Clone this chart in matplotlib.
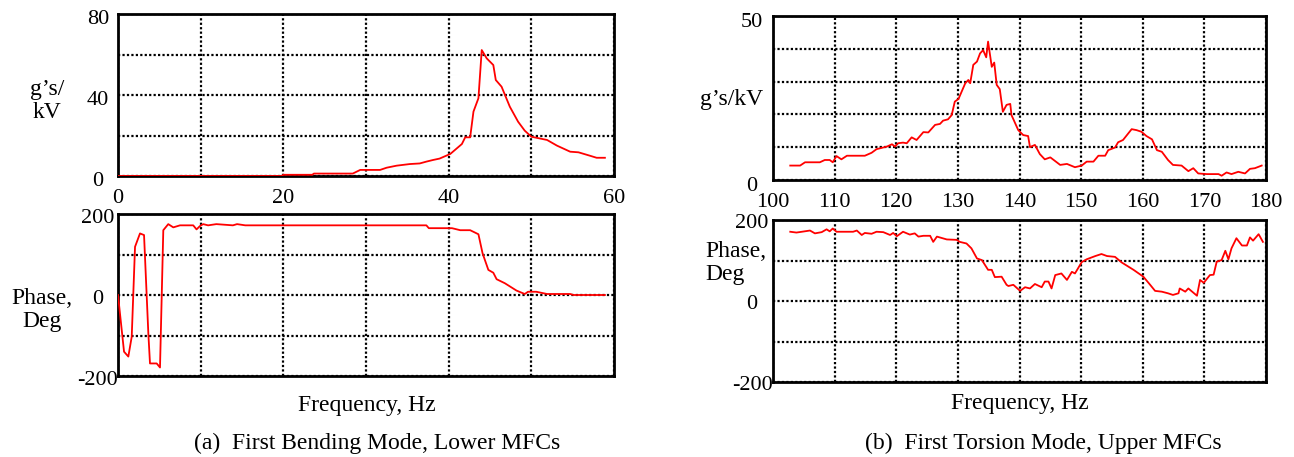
import matplotlib
matplotlib.use("Agg")
import matplotlib.pyplot as plt
from matplotlib.transforms import ScaledTranslation

plt.rcParams['font.family'] = ['Liberation Serif', 'DejaVu Serif']

# ---------------- data: (a) First Bending Mode ----------------
a_mag_freq = [0, 10, 19.8, 20.0, 23.5, 23.7, 28.4, 29.3, 31.7, 32.5, 33.7, 35.3, 36.5, 37.3,
              38.1, 38.9, 40.2, 41.0, 41.6, 42.0, 42.6, 43.0, 43.6, 44.0, 44.6, 45.4, 45.7,
              46.4, 47.4, 48.4, 49.2, 50.0, 51.9, 53.1, 54.7, 55.7, 57.1, 57.9, 58.9]
a_mag_val = [0, 0, 0, 0.6, 0.6, 1.2, 1.2, 3.0, 3.0, 4.1, 5.1, 5.9, 6.2, 7.1,
             7.9, 8.6, 10.9, 13.7, 15.8, 19.1, 19.1, 31.8, 38.4, 62.2, 58.1, 54.8, 47.4,
             44.1, 34.2, 26.8, 22.4, 19.4, 17.8, 15.0, 12.0, 11.7, 10.0, 9.0, 9.0]

a_ph_freq = [0.0, 0.73, 1.25, 1.66, 2.06, 2.66, 3.15, 3.67, 3.87, 4.68, 5.08, 5.48, 6.08,
             6.69, 7.5, 9.1, 9.5, 9.9, 10.3, 10.9, 11.9, 13.9, 14.4, 15.4, 37.3, 37.6,
             40.4, 41.4, 42.6, 43.6, 44.1, 44.8, 45.4, 45.8, 46.8, 48.2, 49.2, 49.6,
             50.6, 51.9, 54.7, 55.1, 58.9]
a_ph_val = [0, -140, -152, -103, 119, 152, 148, -95, -169, -169, -179, 160, 175,
            167, 172, 172, 162, 170, 175, 172, 175, 172, 175, 172, 172, 165,
            165, 160, 160, 150, 103, 62, 55, 39, 29, 11, 2.5, 8,
            8, 2.5, 2.5, 0, 0]

# ---------------- data: (b) First Torsion Mode ----------------
b_mag_freq = [102.8, 104.4, 105.2, 107.6, 108.4, 109.2, 109.7, 110.3, 111.1, 112.0, 114.9,
              116.0, 116.8, 118.5, 119.3, 119.8, 120.3, 121.1, 121.7, 122.5, 123.3, 124.4,
              125.2, 126.3, 127.1, 127.6, 128.4, 129.0, 129.5, 130.1, 131.2, 131.7, 132.0,
              132.5, 133.1, 133.6, 134.1, 134.6, 134.9, 135.5, 135.9, 136.3, 136.8, 137.3,
              137.9, 138.5, 138.7, 139.8, 140.6, 141.4, 141.7, 142.5, 143.3, 144.1, 145.0,
              146.6, 147.7, 149.0, 150.1, 150.9, 152.0, 152.8, 153.9, 154.4, 155.5, 156.0,
              156.8, 158.2, 159.0, 159.8, 160.6, 161.5, 162.3, 163.1, 164.1, 164.9, 166.3,
              167.4, 168.2, 169.0, 170.4, 172.3, 172.8, 173.6, 174.4, 175.5, 176.6, 177.4,
              178.2, 179.3]
b_mag_val = [4.4, 4.4, 5.4, 5.4, 6.1, 6.1, 5.4, 7.3, 6.3, 7.4, 7.4,
             8.3, 9.4, 10.2, 10.9, 10.2, 11.2, 11.4, 11.2, 13.0, 12.2, 14.6,
             14.5, 16.8, 17.1, 18.1, 18.5, 19.8, 23.9, 24.7, 29.5, 30.5, 29.5,
             35.1, 36.1, 38.6, 39.6, 37.4, 42.2, 34.5, 35.8, 29.0, 27.7, 20.8,
             22.9, 23.2, 19.8, 15.2, 13.7, 13.4, 10.0, 10.7, 7.9, 6.3, 6.9,
             4.6, 4.9, 3.9, 4.4, 5.6, 5.6, 7.4, 7.4, 9.1, 9.9, 11.5,
             12.2, 15.5, 15.2, 14.7, 13.4, 12.4, 9.1, 8.6, 6.1, 4.6, 4.4,
             2.7, 3.6, 2.0, 1.8, 1.8, 1.3, 2.3, 1.8, 2.5, 2.0, 3.4,
             3.6, 4.4]

b_ph_freq = [102.8, 103.8, 104.7, 106.0, 106.8, 107.9, 108.7, 109.2, 109.7, 110.3, 113.0,
             113.6, 114.4, 114.9, 116.0, 116.8, 117.9, 119.0, 119.5, 120.1, 121.1, 122.2,
             123.0, 123.6, 124.4, 125.5, 126.0, 126.6, 128.2, 129.8, 130.3, 131.4, 132.2,
             133.1, 133.9, 134.9, 135.5, 136.0, 137.1, 137.9, 138.2, 139.0, 140.1, 140.9,
             141.7, 142.5, 143.6, 144.1, 144.7, 145.2, 145.8, 146.8, 147.7, 148.5, 149.0,
             150.1, 150.9, 152.3, 153.3, 154.2, 155.5, 156.6, 158.5, 160.1, 161.2, 162.0,
             163.1, 164.1, 164.9, 165.8, 166.0, 166.9, 167.4, 168.8, 169.3, 169.9, 170.9,
             171.5, 172.0, 172.8, 173.4, 173.9, 174.4, 175.2, 176.1, 176.9, 177.4, 177.9,
             178.8, 179.5]
b_ph_val = [171, 169, 171, 174, 167, 170, 177, 172, 179, 171, 171,
            174, 163, 168, 166, 171, 170, 163, 168, 160, 171, 164,
            167, 159, 161, 161, 146, 159, 152, 151, 146, 142, 130,
            105, 101, 77, 77, 59, 60, 40, 37, 40, 25, 34,
            31, 42, 34, 48, 48, 31, 64, 68, 52, 72, 68,
            96, 103, 111, 116, 111, 109, 95, 77, 60, 40, 25,
            23, 19, 15, 19, 31, 23, 31, 13, 52, 45, 64,
            65, 97, 101, 124, 103, 130, 155, 137, 137, 157, 149,
            165, 146]

# ---------------- axes labels / ticks ----------------
a_mag_yticks = [0, 20, 40, 60, 80]
a_mag_ylabels = ['0', '', '40', '', '80']
a_xticks = [0, 10, 20, 30, 40, 50, 60]
a_xlabels = ['0', '', '20', '', '40', '', '60']
b_mag_yticks = [0, 10, 20, 30, 40, 50]
b_mag_ylabels = ['0', '', '', '', '', '50']
b_xticks = [100, 110, 120, 130, 140, 150, 160, 170, 180]
b_xlabels = [str(v) for v in b_xticks]
ph_yticks = [-200, -100, 0, 100, 200]
ph_ylabels = ['-200', '', '0', '', '200']

W, H = 1294, 457
fig = plt.figure(figsize=(W / 100, H / 100), dpi=100)

TICK_FS = 16
LABEL_FS = 17


def add_ax(x0, y0, x1, y1):
    return fig.add_axes([x0 / W, 1 - y1 / H, (x1 - x0) / W, (y1 - y0) / H])


def style(ax, xticks, xlabels, yticks, ylabels, xlim, ylim, ypad, ydown, xpad):
    ax.set_xlim(*xlim)
    ax.set_ylim(*ylim)
    ax.set_xticks(xticks)
    ax.set_xticklabels(xlabels)
    ax.set_yticks(yticks)
    ax.set_yticklabels(ylabels)
    ax.tick_params(axis='x', length=0, labelsize=TICK_FS, pad=xpad)
    ax.tick_params(axis='y', length=0, labelsize=TICK_FS, pad=ypad)
    off = ScaledTranslation(0, -ydown / 72, fig.dpi_scale_trans)
    for lab in ax.get_yticklabels():
        lab.set_horizontalalignment('center')
        lab.set_transform(lab.get_transform() + off)
    ax.grid(True, color='black', linestyle=(0, (1, 1)), linewidth=1.6)
    for s in ax.spines.values():
        s.set_linewidth(2.0)
        s.set_color('black')


red = '#ff0000'
lw = 1.3

# (a) magnitude
ax1 = add_ax(118, 14, 614, 176)
ax1.plot(a_mag_freq, a_mag_val, color=red, lw=lw, zorder=3)
style(ax1, a_xticks, a_xlabels, a_mag_yticks, a_mag_ylabels, (0, 60), (0, 80), 14.4, 2.5, 9.5)

# (a) phase
ax2 = add_ax(118, 214, 614, 376)
ax2.plot(a_ph_freq, a_ph_val, color=red, lw=lw, zorder=3)
style(ax2, a_xticks, [''] * len(a_xticks), ph_yticks, ph_ylabels, (0, 60), (-200, 200), 14.4, 1.5, 5)

# (b) magnitude
ax3 = add_ax(773, 16, 1266, 180)
ax3.plot(b_mag_freq, b_mag_val, color=red, lw=lw, zorder=3)
style(ax3, b_xticks, b_xlabels, b_mag_yticks, b_mag_ylabels, (100, 180), (0, 50), 15.0, 3.0, 9.5)

# (b) phase
ax4 = add_ax(773, 220, 1266, 382)
ax4.plot(b_ph_freq, b_ph_val, color=red, lw=lw, zorder=3)
style(ax4, b_xticks, [''] * len(b_xticks), ph_yticks, ph_ylabels, (100, 180), (-200, 200), 15.0, 1.0, 5)


def ftext(x, y, s, **kw):
    fig.text(x / W, 1 - y / H, s, **kw)


ftext(47, 101, 'g\u2019s/\nkV', ha='center', va='center', fontsize=LABEL_FS, linespacing=1.1)
ftext(42, 310, 'Phase,\nDeg', ha='center', va='center', fontsize=LABEL_FS, linespacing=1.15)
ftext(732, 100, 'g\u2019s/kV', ha='center', va='center', fontsize=LABEL_FS)
ftext(705, 263, 'Phase,\nDeg', ha='left', va='center', fontsize=LABEL_FS, linespacing=1.15)
ftext(367, 405, 'Frequency, Hz', ha='center', va='center', fontsize=LABEL_FS)
ftext(1020, 404, 'Frequency, Hz', ha='center', va='center', fontsize=LABEL_FS)
ftext(377, 443, '(a)  First Bending Mode, Lower MFCs', ha='center', va='center', fontsize=17)
ftext(1043, 443, '(b)  First Torsion Mode, Upper MFCs', ha='center', va='center', fontsize=17)

fig.savefig('out.png', dpi=100)
